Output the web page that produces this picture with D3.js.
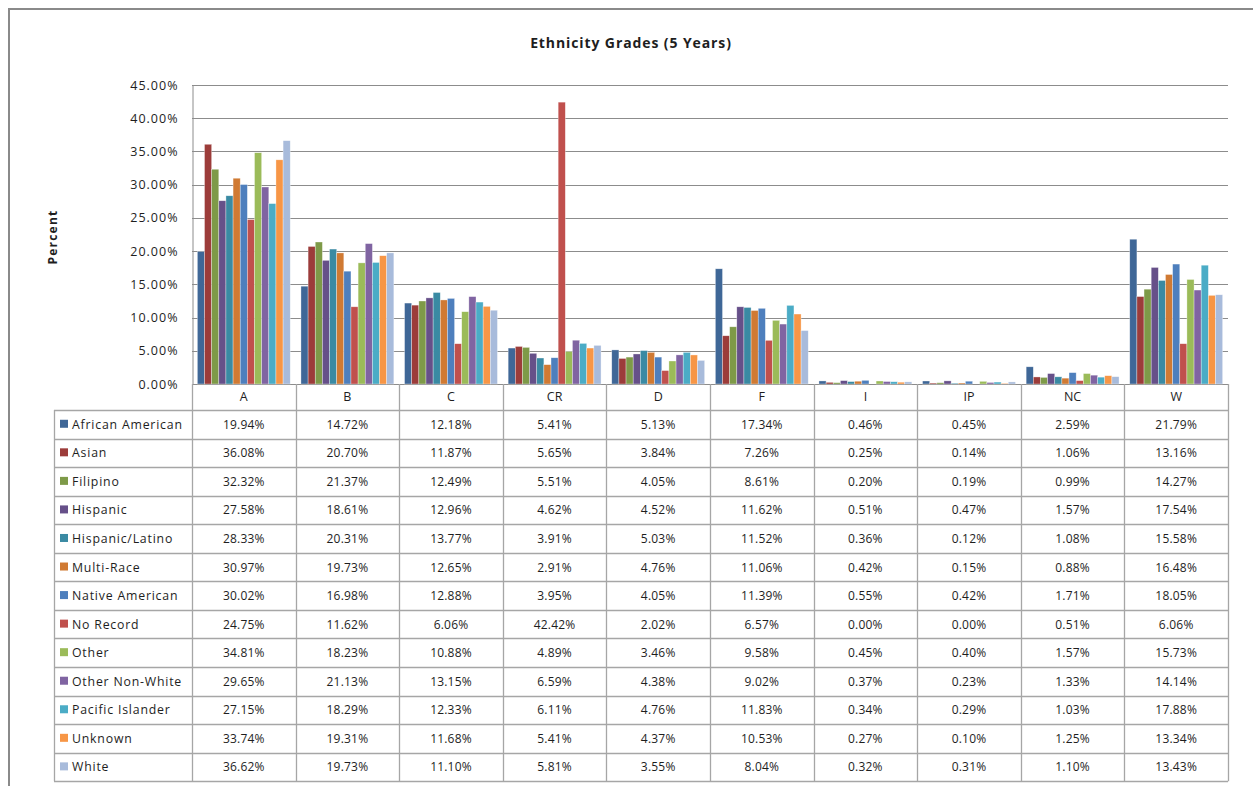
<!DOCTYPE html>
<html>
<head>
<meta charset="utf-8">
<script src="https://cdn.jsdelivr.net/npm/d3@7"></script>
<style>
  html, body { margin: 0; padding: 0; background: #fff; }
  svg { display: block; font-family: "Open Sans", "Liberation Sans", sans-serif; }
</style>
</head>
<body>
<svg id="chart" width="1253" height="786"></svg>
<script>
// Grade categories (columns) and ethnic groups (series)
const grades = ["A", "B", "C", "CR", "D", "F", "I", "IP", "NC", "W"];
const groups = ["African American", "Asian", "Filipino", "Hispanic", "Hispanic/Latino",
  "Multi-Race", "Native American", "No Record", "Other", "Other Non-White",
  "Pacific Islander", "Unknown", "White"];
const groupColors = ["#3f6797", "#9c3c3a", "#7e9a48", "#665089", "#3a8aa3",
  "#d07a33", "#4e7fbd", "#c0504d", "#9bbb59", "#8064a2",
  "#4bacc6", "#f79646", "#a8bbdb"];

// Percent of grades per group, one array per group in grade order
const africanAmerican = [19.94, 14.72, 12.18, 5.41, 5.13, 17.34, 0.46, 0.45, 2.59, 21.79];
const asian           = [36.08, 20.70, 11.87, 5.65, 3.84, 7.26, 0.25, 0.14, 1.06, 13.16];
const filipino        = [32.32, 21.37, 12.49, 5.51, 4.05, 8.61, 0.20, 0.19, 0.99, 14.27];
const hispanic        = [27.58, 18.61, 12.96, 4.62, 4.52, 11.62, 0.51, 0.47, 1.57, 17.54];
const hispanicLatino  = [28.33, 20.31, 13.77, 3.91, 5.03, 11.52, 0.36, 0.12, 1.08, 15.58];
const multiRace       = [30.97, 19.73, 12.65, 2.91, 4.76, 11.06, 0.42, 0.15, 0.88, 16.48];
const nativeAmerican  = [30.02, 16.98, 12.88, 3.95, 4.05, 11.39, 0.55, 0.42, 1.71, 18.05];
const noRecord        = [24.75, 11.62, 6.06, 42.42, 2.02, 6.57, 0.00, 0.00, 0.51, 6.06];
const other           = [34.81, 18.23, 10.88, 4.89, 3.46, 9.58, 0.45, 0.40, 1.57, 15.73];
const otherNonWhite   = [29.65, 21.13, 13.15, 6.59, 4.38, 9.02, 0.37, 0.23, 1.33, 14.14];
const pacificIslander = [27.15, 18.29, 12.33, 6.11, 4.76, 11.83, 0.34, 0.29, 1.03, 17.88];
const unknown         = [33.74, 19.31, 11.68, 5.41, 4.37, 10.53, 0.27, 0.10, 1.25, 13.34];
const white           = [36.62, 19.73, 11.10, 5.81, 3.55, 8.04, 0.32, 0.31, 1.10, 13.43];

const yTicks = [0, 5, 10, 15, 20, 25, 30, 35, 40, 45];

const seriesValues = [africanAmerican, asian, filipino, hispanic, hispanicLatino,
  multiRace, nativeAmerican, noRecord, other, otherNonWhite,
  pacificIslander, unknown, white];
const series = groups.map((g, i) => ({ name: g, color: groupColors[i], values: seriesValues[i] }));

const svg = d3.select("#chart");
const plot = { left: 192, right: 1228, top: 85, bottom: 384 };
const table = { left: 54, headerBottom: 410, rowH: 28.55 };
const gridColor = "#8c8c8c";
const tableColor = "#a6a6a6";
const textColor = "#1e1e1e";
const fmt = v => d3.format(".2f")(v) + "%";

// Outer chart frame
svg.append("rect")
  .attr("x", 9).attr("y", 9).attr("width", 1270).attr("height", 800)
  .attr("fill", "none").attr("stroke", "#8a8a8a").attr("stroke-width", 2);

// Title
svg.append("text")
  .attr("x", 631).attr("y", 48)
  .attr("text-anchor", "middle")
  .attr("font-size", 14).attr("font-weight", "bold").attr("fill", textColor)
  .attr("letter-spacing", 0.9)
  .text("Ethnicity Grades (5 Years)");

// Axis title
svg.append("text")
  .attr("transform", "translate(57,237) rotate(-90)")
  .attr("text-anchor", "middle")
  .attr("font-size", 12).attr("font-weight", "bold").attr("fill", textColor)
  .attr("letter-spacing", 1.2)
  .text("Percent");

// Scales
const x = d3.scaleBand().domain(grades).range([plot.left, plot.right]);
const xInner = d3.scaleBand().domain(groups).range([0, x.bandwidth()])
  .paddingInner(0).paddingOuter(0.75);
const y = d3.scaleLinear().domain([0, 45]).range([plot.bottom, plot.top]);

// Gridlines
svg.append("g")
  .selectAll("line").data(yTicks).join("line")
  .attr("x1", plot.left).attr("x2", plot.right)
  .attr("y1", d => Math.round(y(d)) + 0.5).attr("y2", d => Math.round(y(d)) + 0.5)
  .attr("stroke", gridColor).attr("stroke-width", 1);

// Y axis
const yAxis = svg.append("g")
  .attr("transform", `translate(${plot.left + 0.5},0)`)
  .call(d3.axisLeft(y).tickValues(yTicks).tickSize(0).tickPadding(14)
    .tickFormat(d => d3.format(".2f")(d) + "%"));
yAxis.select(".domain").attr("stroke", gridColor);
yAxis.selectAll("text").attr("font-size", 12.5).attr("fill", textColor)
  .attr("letter-spacing", 1)
  .attr("font-family", "'Open Sans', 'Liberation Sans', sans-serif");

// Bars
const groupG = svg.append("g").selectAll("g").data(grades).join("g")
  .attr("transform", d => `translate(${x(d)},0)`);
groupG.selectAll("rect")
  .data((g, gi) => series.map(s => ({ name: s.name, color: s.color, v: s.values[gi] })))
  .join("rect")
  .attr("x", d => xInner(d.name))
  .attr("width", xInner.bandwidth())
  .attr("y", d => y(d.v))
  .attr("height", d => plot.bottom - y(d.v))
  .attr("fill", d => d.color)
  .attr("stroke", "#ffffff").attr("stroke-opacity", 0.55).attr("stroke-width", 0.6);

// Data table
const tbl = svg.append("g");
const nRows = series.length;
const tableBottom = table.headerBottom + nRows * table.rowH;

// header row: category labels
tbl.selectAll("text.hdr").data(grades).join("text")
  .attr("class", "hdr")
  .attr("x", d => x(d) + x.bandwidth() / 2).attr("y", plot.bottom + 17)
  .attr("text-anchor", "middle").attr("font-size", 12.5).attr("fill", textColor)
  .text(d => d);

// horizontal rules
const hLines = [table.headerBottom].concat(d3.range(1, nRows + 1).map(i => table.headerBottom + i * table.rowH));
tbl.selectAll("line.h").data(hLines).join("line")
  .attr("class", "h")
  .attr("x1", table.left).attr("x2", plot.right)
  .attr("y1", d => Math.round(d) + 0.5).attr("y2", d => Math.round(d) + 0.5)
  .attr("stroke", tableColor).attr("stroke-width", 1.3);

// vertical rules for grade columns (from axis down)
const vLines = grades.map(g => x(g)).concat([plot.right]);
tbl.selectAll("line.v").data(vLines).join("line")
  .attr("class", "v")
  .attr("x1", d => Math.round(d) + 0.5).attr("x2", d => Math.round(d) + 0.5)
  .attr("y1", plot.bottom).attr("y2", tableBottom)
  .attr("stroke", tableColor).attr("stroke-width", 1.3);
// left edge of legend column
tbl.append("line")
  .attr("x1", table.left + 0.5).attr("x2", table.left + 0.5)
  .attr("y1", table.headerBottom).attr("y2", tableBottom)
  .attr("stroke", tableColor).attr("stroke-width", 1.3);

// legend keys and values
const rows = tbl.selectAll("g.row").data(series).join("g")
  .attr("class", "row")
  .attr("transform", (d, i) => `translate(0,${table.headerBottom + i * table.rowH})`);
rows.append("rect")
  .attr("x", table.left + 6).attr("y", table.rowH / 2 - 4.5)
  .attr("width", 8).attr("height", 8)
  .attr("fill", d => d.color);
rows.append("text")
  .attr("x", table.left + 18).attr("y", table.rowH / 2 + 4.5)
  .attr("font-size", 12.3).attr("fill", textColor)
  .attr("letter-spacing", 0.8)
  .text(d => d.name);
rows.selectAll("text.val")
  .data(d => d.values.map((v, i) => ({ v, g: grades[i] })))
  .join("text")
  .attr("class", "val")
  .attr("x", d => x(d.g) + x.bandwidth() / 2).attr("y", table.rowH / 2 + 4.5)
  .attr("text-anchor", "middle").attr("font-size", 12).attr("fill", textColor)
  .attr("letter-spacing", 0.2)
  .text(d => fmt(d.v));
</script>
</body>
</html>
